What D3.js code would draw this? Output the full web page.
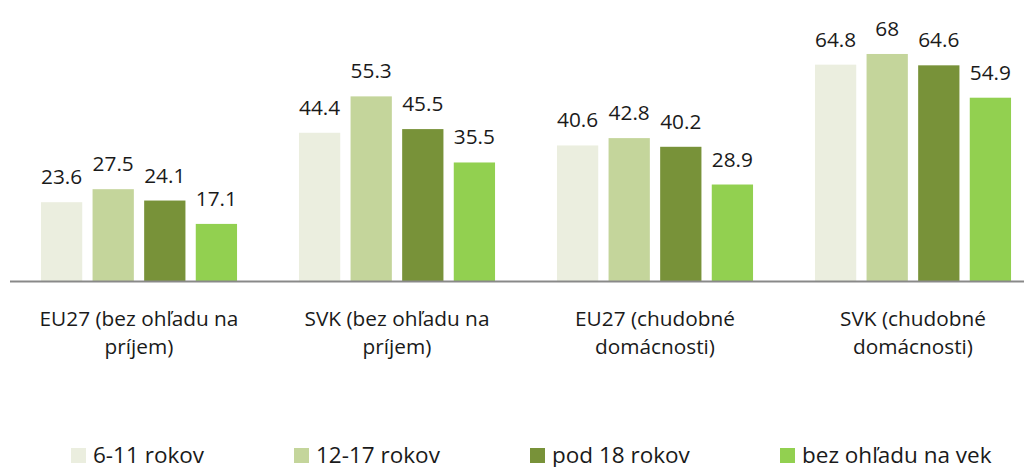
<!DOCTYPE html>
<html>
<head>
<meta charset="utf-8">
<script src="https://cdn.jsdelivr.net/npm/d3@7"></script>
<style>
  body { margin: 0; background: #fff; }
  text { font-family: "Open Sans", "Noto Sans", sans-serif; fill: #1a1a1a; }
</style>
</head>
<body>
<svg id="chart" width="1024" height="467"></svg>
<script>
"use strict";

// data
const categories = [
    ["EU27 (bez ohľadu na", "príjem)"],
    ["SVK (bez ohľadu na", "príjem)"],
    ["EU27 (chudobné", "domácnosti)"],
    ["SVK (chudobné", "domácnosti)"]
];
const seriesNames = ["6-11 rokov", "12-17 rokov", "pod 18 rokov", "bez ohľadu na vek"];
const seriesColors = ["#EBEEDF", "#C4D59B", "#789239", "#92D050"];
const values611 = [23.6, 44.4, 40.6, 64.8];
const values1217 = [27.5, 55.3, 42.8, 68];
const valuesPod18 = [24.1, 45.5, 40.2, 64.6];
const valuesVek = [17.1, 35.5, 28.9, 54.9];
const series = [values611, values1217, valuesPod18, valuesVek];



// setting
const setting = {
    plotLeft: 10, plotRight: 1042,
    baseY: 281, topY: 47.3, yMax: 70,
    fontSize: 20.8,
    legendFont: 22.5,
    legendY: 463, legendX: [71, 294, 530, 780]
};

const svg = d3.select("#chart");



// scales
let scaleX0 = d3.scaleBand()
.domain(d3.range(categories.length))
.range([setting.plotLeft, setting.plotRight])
.paddingInner(0.24)
.paddingOuter(0.12);

let scaleX1 = d3.scaleBand()
.domain(d3.range(seriesNames.length))
.range([0, scaleX0.bandwidth()])
.paddingInner(0.2);

let scaleY = d3.scaleLinear()
.domain([0, setting.yMax])
.range([setting.baseY, setting.topY]);



// bars + labels
let groups = svg.selectAll("g.group")
.data(categories)
.join("g")
.attr("class", "group")
.attr("transform", (d, i) => `translate(${scaleX0(i)}, 0)`);

groups.each(function(c, ci) {
    let g = d3.select(this);
    let vals = series.map(s => s[ci]);

    g.selectAll("rect")
    .data(vals)
    .join("rect")
    .attr("x", (d, i) => scaleX1(i))
    .attr("y", d => scaleY(d))
    .attr("width", scaleX1.bandwidth())
    .attr("height", d => scaleY(0) - scaleY(d))
    .attr("fill", (d, i) => seriesColors[i]);

    g.selectAll("text.value")
    .data(vals)
    .join("text")
    .attr("class", "value")
    .attr("x", (d, i) => scaleX1(i) + scaleX1.bandwidth() / 2)
    .attr("y", d => scaleY(d) - 18)
    .attr("text-anchor", "middle")
    .style("font-size", setting.fontSize + "px")
    .text(d => d);
});



// x axis line
svg.append("line")
.attr("x1", setting.plotLeft)
.attr("x2", 1024)
.attr("y1", scaleY(0) + 0.5)
.attr("y2", scaleY(0) + 0.5)
.attr("stroke", "#898989")
.attr("stroke-width", 2);



// category labels
svg.selectAll("text.cat")
.data(categories)
.join("text")
.attr("class", "cat")
.attr("text-anchor", "middle")
.attr("x", (d, i) => scaleX0(i) + scaleX0.bandwidth() / 2)
.attr("y", 326)
.style("font-size", setting.fontSize + "px")
.each(function(d) {
    d3.select(this).selectAll("tspan")
    .data(d)
    .join("tspan")
    .attr("x", d3.select(this).attr("x"))
    .attr("dy", (t, j) => j === 0 ? 0 : 28)
    .text(t => t);
});



// legend
let legend = svg.selectAll("g.legend")
.data(seriesNames)
.join("g")
.attr("class", "legend")
.attr("transform", (d, i) => `translate(${setting.legendX[i]}, ${setting.legendY})`);

legend.append("rect")
.attr("x", 0)
.attr("y", -15)
.attr("width", 15)
.attr("height", 15)
.attr("fill", (d, i) => seriesColors[i]);

legend.append("text")
.attr("x", 22)
.attr("y", 0)
.style("font-size", setting.legendFont + "px")
.text(d => d);
</script>
</body>
</html>
